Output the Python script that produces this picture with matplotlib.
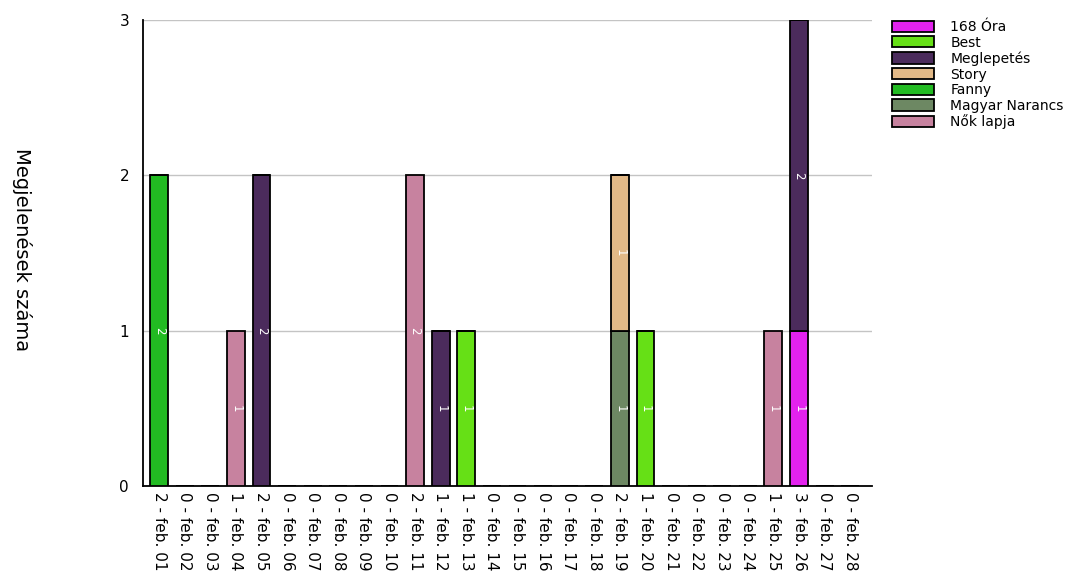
import matplotlib
matplotlib.use("Agg")
import matplotlib.pyplot as plt
import numpy as np

days = [f"feb. {d:02d}" for d in range(1, 29)]

series_names = ["168 Óra", "Best", "Meglepetés", "Story", "Fanny", "Magyar Narancs", "Nők lapja"]
colors = {
    "168 Óra": "#e322ee",
    "Best": "#66e016",
    "Meglepetés": "#4b2b5c",
    "Story": "#e2b987",
    "Fanny": "#22bb22",
    "Magyar Narancs": "#6d8863",
    "Nők lapja": "#c7829f",
}

# values per day (key = day of February)
s_168 = {26: 1}
s_best = {13: 1, 20: 1}
s_megl = {5: 2, 12: 1, 26: 2}
s_story = {19: 1}
s_fanny = {1: 2}
s_magyar = {19: 1}
s_nok = {4: 1, 11: 2, 25: 1}

data = {
    "168 Óra": s_168,
    "Best": s_best,
    "Meglepetés": s_megl,
    "Story": s_story,
    "Fanny": s_fanny,
    "Magyar Narancs": s_magyar,
    "Nők lapja": s_nok,
}
stack_order = ["168 Óra", "Best", "Magyar Narancs", "Meglepetés", "Story", "Fanny", "Nők lapja"]

n = len(days)
x = np.arange(n)
arrays = {k: np.array([data[k].get(i + 1, 0) for i in range(n)], dtype=float) for k in series_names}
totals = sum(arrays.values())

fig = plt.figure(figsize=(10.77, 5.84), dpi=100)
ax = fig.add_axes([143 / 1077, 1 - 486 / 584, (872 - 143) / 1077, (486 - 20) / 584])

bottom = np.zeros(n)
handles = {}
for k in stack_order:
    v = arrays[k]
    bars = ax.bar(x, v, width=0.7, bottom=bottom, color=colors[k], edgecolor="black",
                  linewidth=1.3, zorder=3, label=k)
    handles[k] = bars
    for xi, vi, bi in zip(x, v, bottom):
        if vi > 0:
            ax.text(xi, bi + vi / 2, f"{int(vi)}", color="white", fontsize=8.5,
                    rotation=270, ha="center", va="center", zorder=4)
    bottom = bottom + v

ax.set_xlim(-0.63, 27.85)
ax.set_ylim(0, 3)
ax.set_yticks([0, 1, 2, 3])
ax.set_yticklabels(["0", "1", "2", "3"], fontsize=11)
ax.set_yticks([0], minor=True)
ax.tick_params(axis="y", which="major", length=0, pad=10)
ax.tick_params(axis="y", which="minor", length=8, width=1.3, color="black")
ax.set_xticks(x)
ax.set_xticklabels([f"{int(t)} - {d}" for t, d in zip(totals, days)], rotation=270,
                   fontsize=11, ha="center", va="top")
ax.tick_params(axis="x", length=0, pad=4)
ax.grid(axis="y", color="#c4c4c4", linewidth=1, zorder=0)
for s in ["top", "right"]:
    ax.spines[s].set_visible(False)
for s in ["left", "bottom"]:
    ax.spines[s].set_linewidth(1.3)

fig.text(22 / 1077, 1 - 250 / 584, "Megjelenések száma", rotation=270, fontsize=14,
         ha="center", va="center")

leg = fig.legend([handles[k] for k in series_names], series_names,
                 loc="upper left", bbox_to_anchor=(892 / 1077, 1 - 20 / 584),
                 frameon=False, fontsize=10, handlelength=3.0, handleheight=0.85,
                 handletextpad=1.2, labelspacing=0.12, borderpad=0, borderaxespad=0)

fig.savefig("out.png", dpi=100)
